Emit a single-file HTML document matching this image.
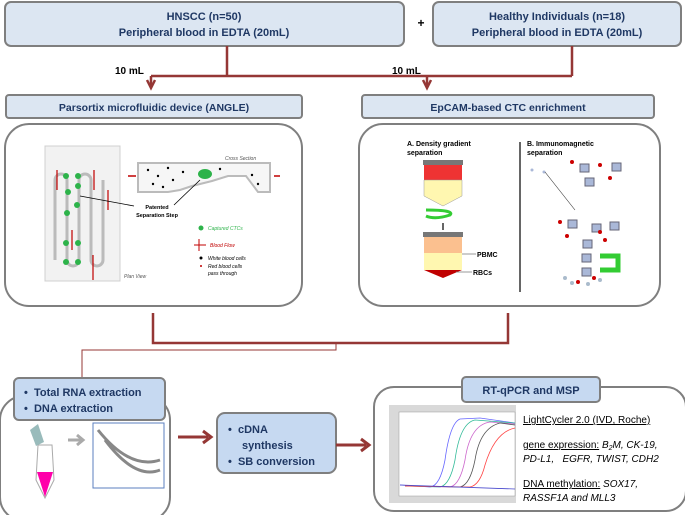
<!DOCTYPE html>
<html><head><style>
body{margin:0;width:685px;height:515px;background:#fff;overflow:hidden;font-family:"Liberation Sans",sans-serif}
svg{position:absolute;left:0;top:0}
</style></head><body>
<svg width="685" height="515" viewBox="0 0 685 515" xmlns="http://www.w3.org/2000/svg" font-family="Liberation Sans, sans-serif">
<!-- top boxes -->
<rect x="5" y="2" width="399" height="44" rx="6" fill="#dce6f2" stroke="#7f7f7f" stroke-width="2"/>
<text x="204" y="20" font-size="11" font-weight="bold" fill="#1f3864" text-anchor="middle">HNSCC (n=50)</text>
<text x="204" y="36" font-size="11" font-weight="bold" fill="#1f3864" text-anchor="middle">Peripheral blood in EDTA (20mL)</text>
<text x="421" y="27" font-size="12" font-weight="bold" text-anchor="middle">+</text>
<rect x="433" y="2" width="248" height="44" rx="6" fill="#dce6f2" stroke="#7f7f7f" stroke-width="2"/>
<text x="557" y="20" font-size="11" font-weight="bold" fill="#1f3864" text-anchor="middle">Healthy Individuals (n=18)</text>
<text x="557" y="36" font-size="11" font-weight="bold" fill="#1f3864" text-anchor="middle">Peripheral blood in EDTA (20mL)</text>
<!-- connectors -->
<g stroke="#953735" stroke-width="2.5" fill="none">
<path d="M227,46 V76 M572,46 V76 M151,76 H572"/>
<path d="M151,76 V87 M427,76 V87"/>
<path d="M147,80 L151,88 L155,80 M423,80 L427,88 L431,80"/>
<path d="M153,313 V343 H508 V313"/>
</g>
<path d="M336,343 V350 H82 V388 M78,382 L82,388 L86,382" stroke="#953735" stroke-width="1" fill="none"/>
<text x="115" y="74" font-size="10" font-weight="bold">10 mL</text>
<text x="392" y="74" font-size="10" font-weight="bold">10 mL</text>
<!-- second row labels -->
<rect x="6" y="95" width="296" height="23" rx="3" fill="#dce6f2" stroke="#7f7f7f" stroke-width="2"/>
<text x="154" y="111" font-size="10.5" font-weight="bold" fill="#1f3864" text-anchor="middle">Parsortix microfluidic device (ANGLE)</text>
<rect x="362" y="95" width="292" height="23" rx="3" fill="#dce6f2" stroke="#7f7f7f" stroke-width="2"/>
<text x="508" y="111" font-size="10.5" font-weight="bold" fill="#1f3864" text-anchor="middle">EpCAM-based CTC enrichment</text>
<rect x="5" y="124" width="297" height="182" rx="24" fill="#fff" stroke="#7f7f7f" stroke-width="2"/>
<rect x="359" y="124" width="301" height="182" rx="24" fill="#fff" stroke="#7f7f7f" stroke-width="2"/>
<!-- parsortix picture -->
<rect x="45" y="146" width="75" height="135" fill="#f2f2f2" stroke="#d0d0d0"/>
<g stroke="#bbb" stroke-width="3" fill="none">
<path d="M55,260 V180 a6,6 0 0 1 12,0 V260 a6,6 0 0 0 12,0 V180 a6,6 0 0 1 12,0 V260 a6,6 0 0 0 12,0 V180"/>
</g>
<g fill="#2db34a"><circle cx="66" cy="176" r="3"/><circle cx="78" cy="176" r="3"/><circle cx="78" cy="186" r="3"/><circle cx="68" cy="192" r="3"/><circle cx="77" cy="205" r="3"/><circle cx="67" cy="213" r="3"/><circle cx="66" cy="243" r="3"/><circle cx="78" cy="243" r="3"/><circle cx="66" cy="262" r="3"/><circle cx="78" cy="262" r="3"/></g>
<g stroke="#c00000" stroke-width="1.2"><path d="M57,190 V170 M94,190 V170 M108,210 V190 M72,250 V230 M93,280 V255"/></g>
<path d="M138,163 H270 V192 H258 L246,176 H228 L212,181 L192,186 L180,190 L168,192 H138 Z" fill="#f6f6f6" stroke="#bbb" stroke-width="2"/>
<ellipse cx="205" cy="174" rx="7" ry="5" fill="#2db34a"/>
<g fill="#000"><circle cx="148" cy="170" r="1.2"/><circle cx="158" cy="176" r="1.2"/><circle cx="168" cy="168" r="1.2"/><circle cx="153" cy="184" r="1.2"/><circle cx="173" cy="180" r="1.2"/><circle cx="183" cy="172" r="1.2"/><circle cx="163" cy="187" r="1.2"/><circle cx="220" cy="169" r="1.2"/><circle cx="252" cy="175" r="1.2"/><circle cx="258" cy="184" r="1.2"/></g>
<path d="M128,176 H136 M274,176 H280" stroke="#c00000" stroke-width="1.5"/>
<text x="225" y="160" font-size="5" font-style="italic" fill="#555">Cross Section</text>
<path d="M134,206 L80,196 M174,205 L200,180" stroke="#000" stroke-width="0.8"/>
<text x="157" y="209" font-size="5.5" font-weight="bold" text-anchor="middle">Patented</text>
<text x="157" y="217" font-size="5.5" font-weight="bold" text-anchor="middle">Separation Step</text>
<circle cx="201" cy="228" r="2.5" fill="#2db34a"/><text x="208" y="230" font-size="5" font-style="italic" fill="#2db34a">Captured CTCs</text>
<path d="M194,245 H206 M199,239 V251" stroke="#c00000" stroke-width="1"/><text x="210" y="247" font-size="5" font-style="italic" fill="#c00000">Blood Flow</text>
<circle cx="201" cy="258" r="1.5" fill="#000"/><text x="208" y="260" font-size="5" font-style="italic">White blood cells</text>
<circle cx="201" cy="266" r="1" fill="#c00000"/><text x="208" y="268" font-size="5" font-style="italic">Red blood cells</text>
<text x="208" y="275" font-size="5" font-style="italic">pass through</text>
<text x="124" y="278" font-size="5" font-style="italic" fill="#555">Plan View</text>
<!-- EpCAM picture -->
<line x1="520" y1="142" x2="520" y2="292" stroke="#333" stroke-width="1.5"/>
<text x="407" y="146" font-size="7" font-weight="bold">A. Density gradient</text>
<text x="407" y="155" font-size="7" font-weight="bold">separation</text>
<text x="527" y="146" font-size="7" font-weight="bold">B. Immunomagnetic</text>
<text x="527" y="155" font-size="7" font-weight="bold">separation</text>
<rect x="423" y="160" width="40" height="5" fill="#777"/>
<rect x="424" y="165" width="38" height="15" fill="#e33"/>
<path d="M424,180 H462 V196 L443,206 L424,196 Z" fill="#fff7b0" stroke="#999" stroke-width="0.5"/>
<path d="M426,210 Q455,210 450,215 Q435,220 426,216" stroke="#33cc33" stroke-width="3" fill="none"/>
<path d="M443,223 V230" stroke="#000" stroke-width="1.2"/>
<rect x="423" y="232" width="40" height="5" fill="#777"/>
<rect x="424" y="237" width="38" height="16" fill="#fbc08f"/>
<rect x="424" y="253" width="38" height="17" fill="#fff7b0"/>
<path d="M424,270 H462 L443,278 Z" fill="#c00000"/>
<path d="M462,254 H476 M456,272 H472" stroke="#777" stroke-width="0.8"/>
<text x="477" y="257" font-size="7" font-weight="bold">PBMC</text>
<text x="473" y="275" font-size="7" font-weight="bold">RBCs</text>
<g fill="#aab8d8" stroke="#667"><rect x="580" y="164" width="9" height="8"/><rect x="612" y="163" width="9" height="8"/><rect x="585" y="178" width="9" height="8"/><rect x="592" y="224" width="9" height="8"/><rect x="568" y="220" width="9" height="8"/><rect x="610" y="222" width="9" height="8"/><rect x="583" y="240" width="9" height="8"/><rect x="582" y="254" width="9" height="8"/><rect x="582" y="268" width="9" height="8"/></g>
<g fill="#c00"><circle cx="572" cy="162" r="2"/><circle cx="600" cy="165" r="2"/><circle cx="610" cy="178" r="2"/><circle cx="560" cy="222" r="2"/><circle cx="567" cy="236" r="2"/><circle cx="605" cy="240" r="2"/><circle cx="600" cy="232" r="2"/><circle cx="578" cy="282" r="2"/><circle cx="594" cy="278" r="2"/></g>
<g fill="#aab8d8"><circle cx="532" cy="170" r="1.5"/><circle cx="544" cy="172" r="1.5"/></g>
<path d="M545,172 L575,210" stroke="#333" stroke-width="0.6"/>
<path d="M600,256 H618 V270 H600" stroke="#33cc33" stroke-width="5" fill="none"/>
<g fill="#abc"><circle cx="565" cy="278" r="2"/><circle cx="572" cy="283" r="2"/><circle cx="588" cy="284" r="2"/><circle cx="600" cy="280" r="2"/></g>
<!-- bottom row -->
<rect x="0" y="396" width="170" height="125" rx="24" fill="#fff" stroke="#7f7f7f" stroke-width="2"/>
<rect x="14" y="378" width="151" height="42" rx="5" fill="#c6d9f1" stroke="#7f7f7f" stroke-width="2"/>
<text x="24" y="396" font-size="11" font-weight="bold" fill="#1f3864">•&#160;&#160;Total RNA extraction</text>
<text x="24" y="412" font-size="11" font-weight="bold" fill="#1f3864">•&#160;&#160;DNA extraction</text>
<path d="M36,480 L38,445 H52 L54,480 L45,498 Z" fill="#fff" stroke="#aaa"/>
<path d="M37,472 H53 L45,497 Z" fill="#f0a"/>
<path d="M30,430 L38,424 L44,442 L36,446 Z" fill="#9bb"/>
<path d="M68,440 H82 M77,435 L83,440 L77,445" stroke="#aaa" stroke-width="3" fill="none"/>
<rect x="93" y="423" width="71" height="65" fill="#fff" stroke="#5b7fbf"/>
<path d="M98,430 Q130,470 160,460 M105,440 Q135,480 160,470" stroke="#888" stroke-width="3" fill="none"/>
<path d="M178,437 H208" stroke="#953735" stroke-width="3"/><path d="M203,431 L211,437 L203,443" stroke="#953735" stroke-width="3" fill="none"/>
<rect x="217" y="413" width="119" height="60" rx="8" fill="#c6d9f1" stroke="#7f7f7f" stroke-width="2"/>
<text x="228" y="433" font-size="11" font-weight="bold" fill="#1f3864">•&#160;&#160;cDNA</text>
<text x="242" y="449" font-size="11" font-weight="bold" fill="#1f3864">synthesis</text>
<text x="228" y="465" font-size="11" font-weight="bold" fill="#1f3864">•&#160;&#160;SB conversion</text>
<path d="M336,445 H366" stroke="#953735" stroke-width="3"/><path d="M361,439 L369,445 L361,451" stroke="#953735" stroke-width="3" fill="none"/>
<rect x="374" y="387" width="312" height="124" rx="20" fill="#fff" stroke="#7f7f7f" stroke-width="2"/>
<rect x="462" y="377" width="138" height="25" rx="4" fill="#c6d9f1" stroke="#7f7f7f" stroke-width="2"/>
<text x="531" y="394" font-size="11" font-weight="bold" fill="#1f3864" text-anchor="middle">RT-qPCR and MSP</text>
<rect x="389" y="405" width="127" height="98" fill="#d9d9d9"/>
<rect x="399" y="412" width="116" height="84" fill="#fff" stroke="#999" stroke-width="0.5"/>
<g fill="none" stroke-width="0.8">
<path d="M400,485 L430,487 Q440,486 445,460 Q450,423 460,419 L480,418 L515,423" stroke="#66f"/>
<path d="M405,486 L440,487 Q450,485 455,460 Q460,423 475,420 L515,423" stroke="#3b9"/>
<path d="M405,486 L450,487 Q460,485 465,460 Q470,425 490,422 L515,424" stroke="#c6c"/>
<path d="M405,486 L460,487 Q470,485 475,460 Q480,428 500,423 L515,425" stroke="#555"/>
<path d="M405,486 L470,487 Q480,485 485,465 Q495,432 515,428" stroke="#f44"/>
<path d="M400,485 L515,489" stroke="#44c"/>
</g>
<text x="523" y="423" font-size="10" text-decoration="underline">LightCycler 2.0 (IVD, Roche)</text>
<text x="523" y="448" font-size="10"><tspan text-decoration="underline">gene expression:</tspan><tspan font-style="italic"> B<tspan font-size="7" dy="2">2</tspan><tspan dy="-2">M, CK-19,</tspan></tspan></text>
<text x="523" y="462" font-size="10" font-style="italic">PD-L1,&#160;&#160; EGFR, TWIST, CDH2</text>
<text x="523" y="487" font-size="10"><tspan text-decoration="underline">DNA methylation:</tspan><tspan font-style="italic"> SOX17,</tspan></text>
<text x="523" y="501" font-size="10" font-style="italic">RASSF1A and MLL3</text>
</svg>
</body></html>
